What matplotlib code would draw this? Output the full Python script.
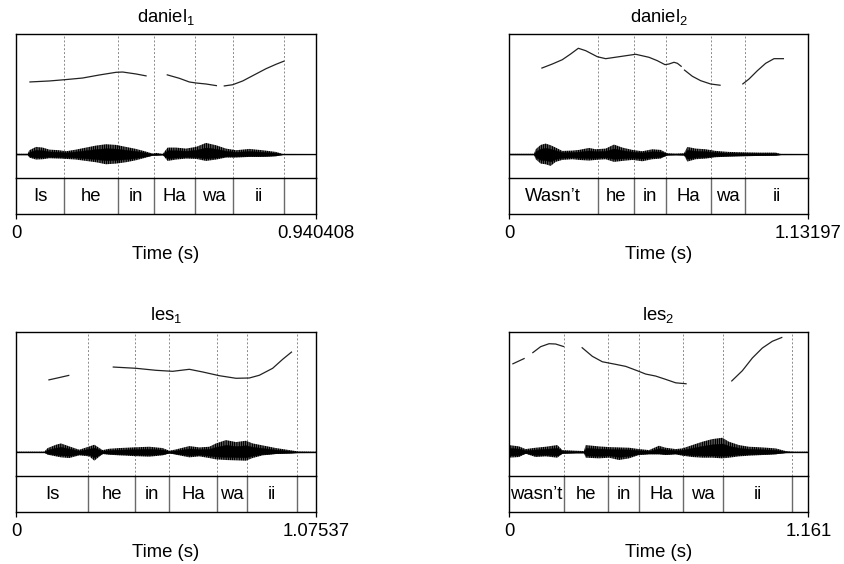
import matplotlib
matplotlib.use('Agg')
import matplotlib.pyplot as plt
import numpy as np

plt.rcParams['font.family'] = ['Liberation Sans', 'DejaVu Sans']
plt.rcParams['mathtext.default'] = 'regular'
plt.rcParams['hatch.linewidth'] = 1.1
FS = 13.3

# ---------------- data ----------------
titles = [r'daniel$_1$', r'daniel$_2$', r'les$_1$', r'les$_2$']
durations = [0.940408, 1.13197, 1.07537, 1.161]
end_labels = ['0.940408', '1.13197', '1.07537', '1.161']

# tier boundaries (s) and interval labels
d1_bounds = [0.1514, 0.3207, 0.4335, 0.561, 0.681, 0.841]
d1_words = ['Is', 'he', 'in', 'Ha', 'wa', 'ii', '']
d2_bounds = [0.3355, 0.474, 0.5927, 0.765, 0.8915]
d2_words = ['Wasn\u2019t', 'he', 'in', 'Ha', 'wa', 'ii']
l1_bounds = [0.2592, 0.4276, 0.5473, 0.7204, 0.829, 1.0082]
l1_words = ['Is', 'he', 'in', 'Ha', 'wa', 'ii', '']
l2_bounds = [0.2133, 0.3852, 0.5043, 0.6761, 0.8289, 1.099]
l2_words = ['wasn\u2019t', 'he', 'in', 'Ha', 'wa', 'ii', '']

# pitch contours (s, Hz), one list per voiced stretch
d1_pitch_t = [[0.0418, 0.1045, 0.1536, 0.209, 0.2612, 0.3135, 0.3344, 0.3762, 0.4096],
              [0.4723, 0.512, 0.5434, 0.5643, 0.5956, 0.6301],
              [0.651, 0.6792, 0.7106, 0.7419, 0.7837, 0.815, 0.8412]]
d1_pitch_hz = [[183.5, 184.9, 186.7, 189.0, 193.2, 196.9, 197.3, 194.6, 191.8],
               [193.6, 188.6, 183.5, 182.1, 180.7, 178.3],
               [177.9, 179.7, 184.9, 192.2, 201.9, 208.0, 212.6]]
d2_pitch_t = [[0.1223, 0.1639, 0.2017, 0.2332, 0.2622, 0.29, 0.3341, 0.3656, 0.416, 0.4791,
               0.5295, 0.561, 0.59, 0.6051, 0.624, 0.6367, 0.653],
              [0.6619, 0.6934, 0.7249, 0.7627, 0.8006],
              [0.8825, 0.9077, 0.9392, 0.9708, 1.0023, 1.0401]]
d2_pitch_hz = [[202.5, 208.4, 214.4, 222.3, 230.2, 226.9, 218.5, 215.8, 218.5, 221.9,
                217.7, 213.0, 207.5, 208.4, 210.8, 209.4, 204.7],
               [200.5, 191.4, 185.3, 180.7, 178.9],
               [180.3, 187.6, 199.1, 209.4, 215.8, 215.8]]
l1_pitch_t = [[0.1159, 0.1529, 0.1912],
              [0.3465, 0.4301, 0.5018, 0.5615, 0.6213, 0.6691, 0.7288, 0.7885, 0.8363,
               0.8722, 0.92, 0.9558, 0.9892]]
l1_pitch_hz = [[183.6, 186.8, 190.2],
               [201.7, 199.9, 197.1, 195.7, 198.5, 194.8, 189.6, 186.0, 186.4,
                190.2, 199.9, 212.4, 223.0]]
l2_pitch_t = [[0.0129, 0.0608],
              [0.0905, 0.1228, 0.1552, 0.181, 0.2133],
              [0.2819, 0.3232, 0.362, 0.4138, 0.4525, 0.4978, 0.5301, 0.5689, 0.6077,
               0.6465, 0.6892],
              [0.8624, 0.9051, 0.9439, 0.9827, 1.0215, 1.0603]]
l2_pitch_hz = [[205.8, 213.8],
               [221.2, 230.0, 234.1, 233.7, 230.0],
               [229.1, 216.6, 209.0, 205.4, 202.6, 196.5, 191.9, 189.1, 184.5,
                179.7, 178.3],
               [181.7, 196.5, 214.2, 228.1, 237.5, 243.1]]

# waveform amplitude envelope (s, relative amplitude)
d1_wave_t = [0.0, 0.0366, 0.0418, 0.0627, 0.0836, 0.1045, 0.1358, 0.1567, 0.1881, 0.2194,
             0.2508, 0.2821, 0.3135, 0.3448, 0.3762, 0.4075, 0.4284, 0.4389, 0.4598, 0.4754,
             0.5016, 0.5329, 0.5643, 0.5956, 0.627, 0.6583, 0.6897, 0.7315, 0.7732, 0.815,
             0.8359, 0.9404]
d1_wave_up = [0.02, 0.02, 0.167, 0.306, 0.278, 0.194, 0.167, 0.125, 0.194, 0.278,
              0.361, 0.417, 0.389, 0.306, 0.222, 0.111, 0.028, 0.056, 0.014, 0.278,
              0.278, 0.236, 0.306, 0.472, 0.375, 0.236, 0.167, 0.222, 0.167, 0.097,
              0.014, 0.01]
d1_wave_lo = [-0.02, -0.02, -0.139, -0.222, -0.208, -0.167, -0.181, -0.194, -0.222, -0.278,
              -0.333, -0.417, -0.389, -0.333, -0.25, -0.139, -0.056, -0.056, -0.028, -0.278,
              -0.222, -0.181, -0.194, -0.278, -0.222, -0.139, -0.139, -0.111, -0.111, -0.083,
              -0.014, -0.01]
d2_wave_t = [0.0, 0.0946, 0.1009, 0.1198, 0.1387, 0.1576, 0.1765, 0.2017, 0.2395, 0.2648,
             0.3026, 0.3278, 0.3656, 0.3971, 0.4286, 0.4665, 0.5043, 0.5421, 0.5736, 0.5988,
             0.6304, 0.6619, 0.6745, 0.706, 0.7438, 0.7816, 0.8321, 0.8825, 0.9455, 1.0086,
             1.0275, 1.13197]
d2_wave_up = [0.02, 0.02, 0.208, 0.389, 0.444, 0.375, 0.278, 0.139, 0.153, 0.181,
              0.264, 0.208, 0.236, 0.403, 0.278, 0.181, 0.125, 0.208, 0.181, 0.042,
              0.028, 0.042, 0.306, 0.236, 0.208, 0.139, 0.097, 0.083, 0.069, 0.069,
              0.014, 0.01]
d2_wave_lo = [-0.02, -0.02, -0.208, -0.389, -0.417, -0.486, -0.319, -0.236, -0.208, -0.236,
              -0.264, -0.236, -0.208, -0.319, -0.278, -0.236, -0.292, -0.208, -0.181, -0.042,
              -0.028, -0.042, -0.306, -0.208, -0.181, -0.125, -0.097, -0.083, -0.069, -0.056,
              -0.014, -0.01]
l1_wave_t = [0.0, 0.1016, 0.1135, 0.1434, 0.1613, 0.1912, 0.227, 0.2628, 0.2808, 0.3106,
             0.3345, 0.3704, 0.4182, 0.4779, 0.5257, 0.5496, 0.5735, 0.6213, 0.6571, 0.693,
             0.7168, 0.7527, 0.7885, 0.8244, 0.8483, 0.8841, 0.9319, 0.9797, 1.0096, 1.07537]
l1_wave_up = [0.02, 0.02, 0.167, 0.306, 0.361, 0.236, 0.097, 0.236, 0.306, 0.083,
              0.139, 0.167, 0.194, 0.222, 0.167, 0.056, 0.111, 0.25, 0.194, 0.222,
              0.361, 0.5, 0.417, 0.472, 0.361, 0.278, 0.167, 0.083, 0.028, 0.02]
l1_wave_lo = [-0.02, -0.02, -0.111, -0.181, -0.222, -0.25, -0.139, -0.181, -0.361, -0.083,
              -0.111, -0.139, -0.167, -0.194, -0.139, -0.056, -0.111, -0.222, -0.181, -0.25,
              -0.306, -0.333, -0.347, -0.361, -0.25, -0.139, -0.083, -0.056, -0.028, -0.02]
l2_wave_t = [0.0, 0.0388, 0.0646, 0.1034, 0.1422, 0.1875, 0.2069, 0.2586, 0.2909, 0.2974,
             0.3491, 0.3879, 0.4267, 0.4655, 0.5043, 0.5431, 0.5818, 0.6077, 0.6465, 0.6724,
             0.7111, 0.7499, 0.7887, 0.8275, 0.8534, 0.8922, 0.9309, 0.9827, 1.0344, 1.0732,
             1.099, 1.161]
l2_wave_up = [0.292, 0.236, 0.125, 0.181, 0.222, 0.292, 0.083, 0.056, 0.042, 0.292,
              0.236, 0.208, 0.194, 0.181, 0.125, 0.083, 0.264, 0.181, 0.125, 0.153,
              0.292, 0.431, 0.542, 0.597, 0.431, 0.292, 0.222, 0.194, 0.153, 0.042,
              0.02, 0.02]
l2_wave_lo = [-0.236, -0.208, -0.069, -0.208, -0.181, -0.236, -0.069, -0.042, -0.042, -0.236,
              -0.264, -0.236, -0.333, -0.264, -0.125, -0.097, -0.097, -0.125, -0.097, -0.153,
              -0.208, -0.236, -0.236, -0.264, -0.236, -0.181, -0.153, -0.125, -0.097, -0.028,
              -0.02, -0.02]

panels = [
    dict(bounds=d1_bounds, words=d1_words, pt=d1_pitch_t, phz=d1_pitch_hz,
         wt=d1_wave_t, wu=d1_wave_up, wl=d1_wave_lo),
    dict(bounds=d2_bounds, words=d2_words, pt=d2_pitch_t, phz=d2_pitch_hz,
         wt=d2_wave_t, wu=d2_wave_up, wl=d2_wave_lo),
    dict(bounds=l1_bounds, words=l1_words, pt=l1_pitch_t, phz=l1_pitch_hz,
         wt=l1_wave_t, wu=l1_wave_up, wl=l1_wave_lo),
    dict(bounds=l2_bounds, words=l2_words, pt=l2_pitch_t, phz=l2_pitch_hz,
         wt=l2_wave_t, wu=l2_wave_up, wl=l2_wave_lo),
]

# ---------------- layout (pixels) ----------------
W, H = 844, 564
fig = plt.figure(figsize=(W / 100, H / 100), dpi=100)

boxes = [  # left, right, top, tier_top, bottom
    (16, 316, 34, 178.3, 214),
    (509, 808.3, 34, 178.3, 214),
    (16, 316, 332.3, 476, 511.7),
    (509, 808.3, 332.3, 476, 511.7),
]

def frac(l, r, t, b):
    return [l / W, 1 - b / H, (r - l) / W, (b - t) / H]

FRAME_LW = 1.0
for i, p in enumerate(panels):
    l, r, t, tt, b = boxes[i]
    dur = durations[i]

    # upper area: pitch + waveform
    ax_p = fig.add_axes(frac(l, r, t, tt))
    ax_p.set_xlim(0, dur)
    ax_p.set_ylim(50, 250)
    ax_p.set_xticks([]); ax_p.set_yticks([])
    for s in ['top', 'left', 'right']:
        ax_p.spines[s].set_linewidth(FRAME_LW)
    ax_p.spines['bottom'].set_visible(False)
    ax_p.vlines(p['bounds'], 50, 250, colors='#8a8a8a', linestyles=(0, (2, 2)),
                linewidth=0.7)
    for st, sh in zip(p['pt'], p['phz']):
        ax_p.plot(st, sh, color='#222222', lw=0.9, solid_capstyle='butt')

    ax_w = fig.add_axes(frac(l, r, t, tt), sharex=ax_p)
    ax_w.patch.set_visible(False)
    ax_w.set_ylim(-1, 5)
    ax_w.axis('off')
    ax_w.axhline(0, color='black', lw=0.9)
    wu = np.asarray(p['wu']); wl = np.asarray(p['wl'])
    # outer, striped part of the waveform (individual pitch pulses)
    ax_w.fill_between(p['wt'], wl, wu, facecolor='none', edgecolor='black',
                      hatch='|' * 9, lw=0)
    # dense core of the waveform
    ax_w.fill_between(p['wt'], wl * 0.6, wu * 0.6, color='black', lw=0.3)
    ax_w.set_xlim(0, dur)

    # tier
    ax_t = fig.add_axes(frac(l, r, tt, b))
    ax_t.set_xlim(0, dur)
    ax_t.set_ylim(0, 1)
    ax_t.set_yticks([])
    for s in ax_t.spines.values():
        s.set_linewidth(FRAME_LW)
    ax_t.vlines(p['bounds'], 0, 1, colors='#6a6a6a', linewidth=1.0)
    edges = [0.0] + list(p['bounds']) + [dur]
    for k, w in enumerate(p['words']):
        ax_t.text((edges[k] + edges[k + 1]) / 2, 0.48, w, ha='center', va='center',
                  fontsize=FS)
    ax_t.set_xticks([0, dur])
    ax_t.set_xticklabels(['0', end_labels[i]], fontsize=FS)
    ax_t.tick_params(axis='x', direction='out', length=3.6, width=0.9, pad=4.5)
    ax_t.set_xlabel('Time (s)', fontsize=FS, labelpad=3)

    ax_p.set_title(titles[i], fontsize=FS, pad=8.5)

fig.savefig('out.png', dpi=100)
